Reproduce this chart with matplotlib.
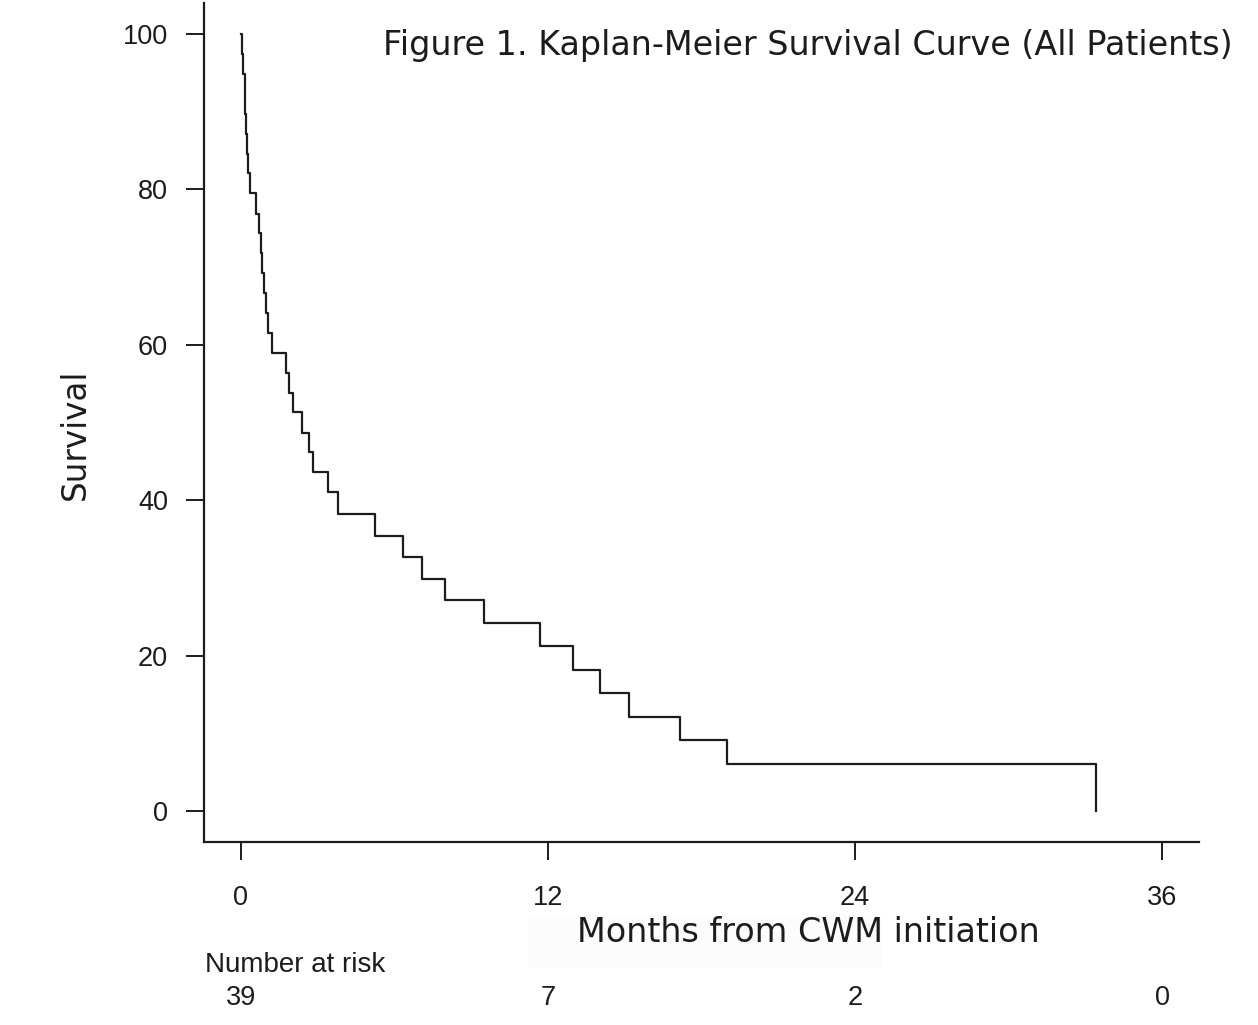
import numpy as np
import matplotlib.pyplot as plt
from matplotlib.transforms import blended_transform_factory
from matplotlib.patches import Rectangle

# data (months, survival % after each drop)
event_months = [0.05, 0.10, 0.15, 0.18, 0.21, 0.24, 0.28, 0.35,
                0.61, 0.70, 0.78, 0.84, 0.92, 0.98, 1.08, 1.21,
                1.78, 1.89, 2.04, 2.37, 2.67, 2.80, 3.41, 3.79,
                5.26, 6.34, 7.09, 7.97, 9.50, 11.68, 12.97, 14.04,
                15.16, 17.15, 19.01, 33.43]
survival = [97.4, 94.9, 92.3, 89.7, 87.2, 84.6, 82.1, 79.5,
            76.9, 74.4, 71.8, 69.2, 66.7, 64.1, 61.5, 59.0,
            56.4, 53.8, 51.3, 48.7, 46.2, 43.6, 41.0, 38.2,
            35.4, 32.7, 29.9, 27.2, 24.2, 21.2, 18.2, 15.2,
            12.1, 9.1, 6.1, 0.0]
x_ticks = [0, 12, 24, 36]
y_ticks = [0, 20, 40, 60, 80, 100]
at_risk = [39, 7, 2, 0]

ink = '#1c1c1c'
tick_font = 'Liberation Sans'
label_font = ['DejaVu Sans']

fig = plt.figure(figsize=(12.58, 10.25), dpi=100)
ax = fig.add_axes([204/1258, 1-842/1025, (1199-204)/1258, (842-3)/1025])

# step curve starting at 100% at time 0
t = [0] + event_months
s = [100] + survival
ax.step(t, s, where='post', color=ink, lw=1.6)

ax.set_xlim(-1.44, 37.44)
ax.set_ylim(-4, 104)
ax.spines['top'].set_visible(False)
ax.spines['right'].set_visible(False)
for sp in ('left', 'bottom'):
    ax.spines[sp].set_linewidth(1.6)
    ax.spines[sp].set_color(ink)

ax.set_xticks(x_ticks)
ax.set_yticks(y_ticks)
ax.tick_params(axis='both', direction='out', length=13, width=1.4, color=ink,
               labelsize=19.5, labelcolor=ink)
ax.tick_params(axis='x', pad=18)
ax.tick_params(axis='y', pad=13)
for lab in ax.get_xticklabels() + ax.get_yticklabels():
    lab.set_fontfamily(tick_font)

# titles and labels
fig.text(1233/1258, 1-45/1025, 'Figure 1. Kaplan-Meier Survival Curve (All Patients)',
         ha='right', va='center', fontsize=24, family=label_font, color=ink)
fig.text(75/1258, 1-434/1025, 'Survival', rotation=90, ha='center', va='center',
         fontsize=23.5, family=label_font, color=ink)

# faint patch behind the x label
fig.patches.append(Rectangle((528/1258, 1-967/1025), (880-528)/1258, (967-915)/1025,
                             transform=fig.transFigure, color='#fcfcfc', zorder=0))
fig.text(808/1258, 1-932/1025, 'Months from CWM initiation', ha='center', va='center',
         fontsize=24, family=label_font, color=ink)

# number at risk table
fig.text(205/1258, 1-965/1025, 'Number at risk', ha='left', va='center',
         fontsize=20, family=tick_font, color=ink)
trans = blended_transform_factory(ax.transData, fig.transFigure)
for xt, n in zip(x_ticks, at_risk):
    ax.text(xt, 1-998/1025, str(n), transform=trans, ha='center', va='center',
            fontsize=19.5, family=tick_font, color=ink, clip_on=False)

fig.savefig('out.png', dpi=100)
